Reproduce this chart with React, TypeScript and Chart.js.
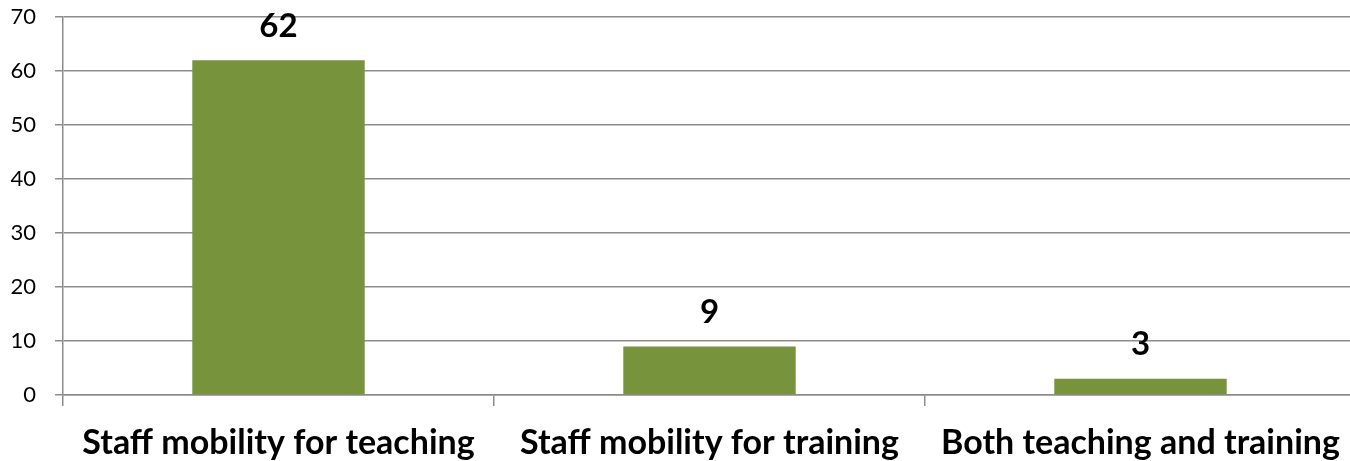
import React, { useEffect, useRef } from "react";
import { Chart, registerables } from "chart.js";

Chart.register(...registerables);

const categories = [
  "Staff mobility for teaching",
  "Staff mobility for training",
  "Both teaching and training",
];
const values = [62, 9, 3];
const yTicks = [0, 10, 20, 30, 40, 50, 60, 70];

const FONT = "Lato, 'Open Sans', sans-serif";

const valueLabels = {
  id: "valueLabels",
  afterDatasetsDraw(chart: any) {
    const ctx = chart.ctx;
    const meta = chart.getDatasetMeta(0);
    ctx.save();
    ctx.font = `bold 33px ${FONT}`;
    ctx.fillStyle = "#000";
    ctx.textAlign = "center";
    ctx.textBaseline = "middle";
    meta.data.forEach((bar: any, i: number) => {
      ctx.fillText(String(values[i]), bar.x, bar.y - 34);
    });
    ctx.restore();
  },
};

export default function App() {
  const ref = useRef<HTMLCanvasElement | null>(null);
  useEffect(() => {
    if (!ref.current) return;
    const chart = new Chart(ref.current, {
      type: "bar",
      data: {
        labels: categories,
        datasets: [
          {
            data: values,
            backgroundColor: "#77933C",
            borderWidth: 0,
            barPercentage: 0.4,
            categoryPercentage: 1,
          },
        ],
      },
      options: {
        animation: false,
        responsive: false,
        maintainAspectRatio: false,
        layout: { padding: { top: 17, right: 4, left: 0, bottom: 0 } },
        plugins: { legend: { display: false }, tooltip: { enabled: false } },
        scales: {
          x: {
            offset: true,
            grid: {
              display: true,
              drawOnChartArea: false,
              offset: true,
              tickLength: 11,
              color: "#8c8c8c",
              lineWidth: 1.5,
            },
            border: { display: true, color: "#8c8c8c", width: 1.5 },
            ticks: {
              font: { family: FONT, size: 34, weight: "bold" },
              color: "#000",
              padding: 17,
              maxRotation: 0,
              autoSkip: false,
            },
            afterFit: (s: any) => {
              s.height = 66;
              s.paddingTop = 0;
              s.paddingBottom = 0;
            },
          },
          y: {
            min: 0,
            max: 70,
            afterBuildTicks: (s: any) => {
              s.ticks = yTicks.map((v) => ({ value: v }));
            },
            grid: {
              color: "#8c8c8c",
              lineWidth: 1.5,
              tickLength: 8,
            },
            border: { display: true, color: "#8c8c8c", width: 1.5 },
            ticks: {
              font: { family: FONT, size: 22 },
              color: "#000",
              padding: 19,
            },
            afterFit: (s: any) => {
              s.width = 63;
              s.paddingTop = 0;
              s.paddingBottom = 0;
            },
          },
        },
      },
      plugins: [valueLabels],
    });
    return () => chart.destroy();
  }, []);
  return (
    <div
      style={{
        position: "absolute",
        left: 0,
        top: 0,
        width: 1350,
        height: 461,
        overflow: "hidden",
        background: "#fff",
      }}
    >
      <canvas ref={ref} width={1360} height={461} style={{ display: "block" }} />
    </div>
  );
}
